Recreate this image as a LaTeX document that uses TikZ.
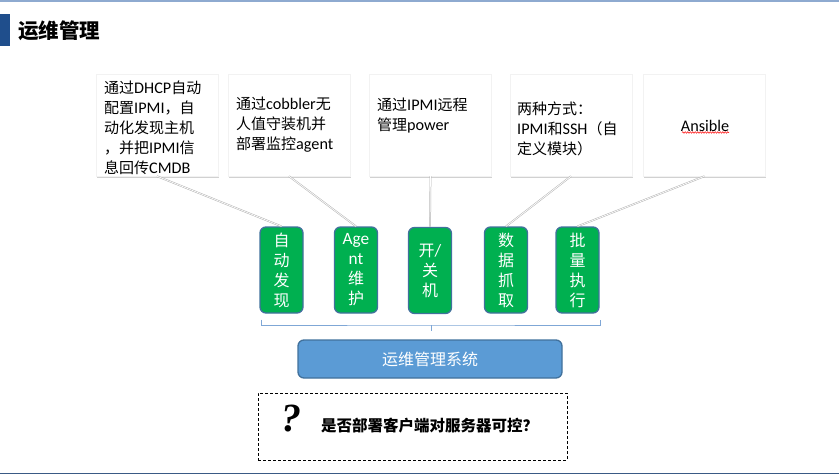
\documentclass[tikz,border=0pt]{standalone}
\usepackage{fontspec}
\setmainfont{Noto Sans CJK SC}
\newfontfamily\lat[Scale=1.08]{Carlito}
\newfontfamily\qfont{Liberation Serif}
\usetikzlibrary{shadows,decorations.pathmorphing}
\definecolor{greenfill}{HTML}{00B050}
\definecolor{borderblue}{HTML}{41719C}
\definecolor{sysblue}{HTML}{5B9BD5}
\definecolor{titleblue}{HTML}{1F4E8C}
\definecolor{toplineblue}{HTML}{8EAAD0}
\definecolor{botlineblue}{HTML}{3A5A85}
\definecolor{bracecol}{HTML}{7FA7D6}
\begin{document}
\begin{tikzpicture}[x=1pt,y=-1pt,
  callout/.style={rectangle, fill=white, draw=black!5, minimum width=122pt, minimum height=102pt, inner sep=0pt,
    drop shadow={shadow xshift=0.8pt, shadow yshift=-1.6pt, opacity=0.3, fill=black!60}},
  ctext/.style={inner sep=0pt, align=left, font=\fontsize{15}{20}\selectfont},
  gbox/.style={rectangle, rounded corners=6pt, fill=greenfill, draw=borderblue, line width=1.3pt,
    minimum width=43pt, minimum height=86pt, inner sep=0pt, align=center, text=white,
    font=\fontsize{16}{20}\selectfont},
  pointer/.style={draw=black!30, double=white, double distance=0.7pt, line width=0.5pt},
  bracestyle/.style={draw=bracecol, line width=1pt},
]
\useasboundingbox (0,0) rectangle (839,475);
% frame lines
\coordinate (tl) at (0,0.8);
\coordinate (tr) at (839,0.8);
\coordinate (bl0) at (0,473.5);
\coordinate (br0) at (839,473.5);
\draw[toplineblue, line width=1.6pt] (tl) -- (tr);
\draw[botlineblue, line width=1.6pt] (bl0) -- (br0);
% title
\node[rectangle, fill=titleblue, minimum width=10pt, minimum height=32pt, inner sep=0pt] (tbar) at (5,30) {};
\node[inner sep=0pt, anchor=west, font=\fontsize{20.5}{24}\selectfont\bfseries] (title) at (18,31) {运维管理};
% callout boxes
\node[callout] (b1) at (157,125) {};
\node[callout] (b2) at (289,125) {};
\node[callout] (b3) at (430.5,125) {};
\node[callout] (b4) at (571,125) {};
\node[callout] (b5) at (704.5,125) {};
\node[ctext, anchor=west] (t1) at (104,128) {通过{\lat DHCP}自动\\配置{\lat IPMI}，自\\动化发现主机\\，并把{\lat IPMI}信\\息回传{\lat CMDB}};
\node[ctext, anchor=west] (t2) at (236,125) {通过{\lat cobbler}无\\人值守装机并\\部署监控{\lat agent}};
\node[ctext, anchor=west] (t3) at (377,116) {通过{\lat IPMI}远程\\管理{\lat power}};
\node[ctext, anchor=west] (t4) at (517,129) {两种方式：\\{\lat IPMI}和{\lat SSH}（自\\定义模块）};
\node[ctext] (t5) at (705,126) {\lat Ansible};
\coordinate (u1) at (682,132.5);
\coordinate (u2) at (729,132.5);
\draw[red, line width=0.5pt, decorate, decoration={snake, amplitude=0.8pt, segment length=2.5pt}] (u1) -- (u2);
% green boxes
\node[gbox] (g1) at (281.5,270) {自\\动\\发\\现};
\node[gbox] (g2) at (356,270) {{\lat Age}\\{\lat nt}\\维\\护};
\node[gbox] (g3) at (430,270.5) {开{\lat /}\\关\\机};
\node[gbox] (g4) at (506,270) {数\\据\\抓\\取};
\node[gbox] (g5) at (577.5,270) {批\\量\\执\\行};
% pointers
\draw[pointer] (b1.south) -- (g1.north);
\draw[pointer] (b2.south) -- (g2.north);
\draw[pointer] (b3.south) -- (g3.north);
\draw[pointer] (b4.south) -- (g4.north);
\draw[pointer] (b5.south) -- (g5.north);
% brace
\coordinate (brl) at (261,319.5);
\coordinate (brr) at (600,319.5);
\coordinate (brc) at (431,325);
\coordinate (brm) at (431,331);
\draw[bracestyle] (brl) |- (brc) -| (brr);
\draw[bracestyle] (brc) -- (brm);
% system box
\node[rectangle, rounded corners=6pt, fill=sysblue, draw=borderblue, line width=1.3pt,
  minimum width=264pt, minimum height=38pt, inner sep=0pt, text=white,
  font=\fontsize{16}{20}\selectfont] (sys) at (430,359) {运维管理系统};
% question box
\node[rectangle, draw=black, dashed, dash pattern=on 3pt off 2pt, line width=0.8pt,
  minimum width=309pt, minimum height=67pt, inner sep=0pt] (qbox) at (412.5,426.5) {};
\node[inner sep=0pt, font=\fontsize{40}{40}\qfont\bfseries\itshape] (qm) at (291,419) {?};
\node[inner sep=0pt, anchor=west, font=\fontsize{15.5}{20}\selectfont\bfseries] (qtext) at (321,426) {是否部署客户端对服务器可控？};
\end{tikzpicture}
\end{document}
